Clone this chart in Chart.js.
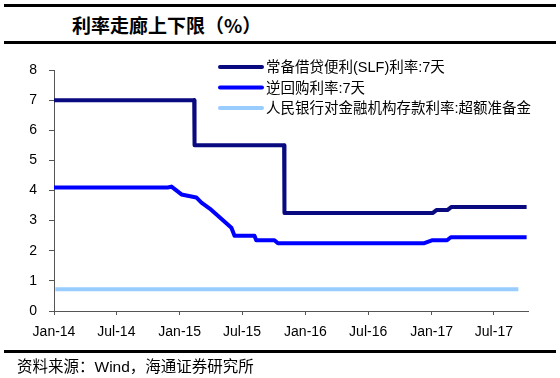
<!DOCTYPE html>
<html>
<head>
<meta charset="utf-8">
<script src="https://cdn.jsdelivr.net/npm/chart.js@4.4.1/dist/chart.umd.min.js"></script>
<style>
  html, body { margin: 0; padding: 0; background: #fff; }
  #wrap { position: relative; width: 560px; height: 378px; overflow: hidden; background: #fff; }
  #chartBox { position: absolute; left: 0; top: 0; width: 560px; height: 378px; }
  .rule { position: absolute; left: 4px; width: 552px; height: 3px; background: #000; }
  .txt { position: absolute; white-space: nowrap; color: #000; }
  #title { left: 72px; top: 13px; font: bold 19px "Noto Sans CJK SC", sans-serif; line-height: 24px; }
  #source { left: 17px; top: 357px; font: 15.5px "Liberation Sans", "Noto Sans CJK SC", sans-serif; line-height: 20px; }
</style>
</head>
<body>
<div id="wrap">
  <div class="rule" style="top:4px"></div>
  <div id="title" class="txt">利率走廊上下限（%）</div>
  <div class="rule" style="top:41px"></div>
  <div id="chartBox"><canvas id="c" width="560" height="378"></canvas></div>
  <div class="rule" style="top:350px"></div>
  <div id="source" class="txt">资料来源：Wind，海通证券研究所</div>
</div>
<script>
// ---- data ----
const tickDates = ['2014-01-01','2014-07-01','2015-01-01','2015-07-01','2016-01-01','2016-07-01','2017-01-01','2017-07-01'];
const tickLabels = ['Jan-14','Jul-14','Jan-15','Jul-15','Jan-16','Jul-16','Jan-17','Jul-17'];

const seriesNames = ['常备借贷便利(SLF)利率:7天', '逆回购利率:7天', '人民银行对金融机构存款利率:超额准备金'];

const slfDates  = ['2014-01-01','2015-02-12','2015-02-13','2015-10-31','2015-11-01','2017-01-04','2017-01-15','2017-02-16','2017-02-27','2017-10-04'];
const slfValues = [7.0, 7.0, 5.5, 5.5, 3.25, 3.25, 3.35, 3.35, 3.45, 3.45];

const repoDates  = ['2014-01-01','2014-11-27','2014-12-08','2015-01-06','2015-02-18','2015-03-05','2015-03-29','2015-05-31','2015-06-09','2015-08-06','2015-08-11','2015-10-03','2015-10-13','2016-12-11','2017-01-04','2017-02-15','2017-02-26','2017-10-04'];
const repoValues = [4.1, 4.1, 4.13, 3.87, 3.77, 3.6, 3.4, 2.76, 2.5, 2.5, 2.35, 2.35, 2.25, 2.25, 2.35, 2.35, 2.45, 2.45];

const excessDates  = ['2014-01-05','2017-09-10'];
const excessValues = [0.72, 0.72];

const axisEndDate = '2017-10-08';
const yMin = 0, yMax = 8, yStep = 1;

// ---- helpers ----
const base = Date.parse('2014-01-01T00:00:00Z');
function day(s) { return (Date.parse(s + 'T00:00:00Z') - base) / 86400000; }
function pts(dates, vals) { return dates.map((d, i) => ({ x: day(d), y: vals[i] })); }

const colors = ['#0a0a80', '#0000ff', '#99ccff'];
const latinCjk = '"Liberation Sans", "Noto Sans CJK SC", sans-serif';

const legendPlugin = {
  id: 'customLegend',
  afterDraw(chart) {
    const ctx = chart.ctx;
    const a = chart.chartArea;
    ctx.save();
    chart.data.datasets.forEach((ds, i) => {
      const y = a.top - 3 + i * 20.5;
      ctx.beginPath();
      ctx.lineWidth = 4;
      ctx.lineCap = 'round';
      ctx.strokeStyle = ds.borderColor;
      ctx.moveTo(a.left + 166, y);
      ctx.lineTo(a.left + 208, y);
      ctx.stroke();
      ctx.fillStyle = '#000';
      ctx.font = '14.5px ' + latinCjk;
      ctx.textBaseline = 'middle';
      ctx.textAlign = 'left';
      ctx.fillText(ds.label, a.left + 212, y + 1);
    });
    ctx.restore();
  }
};

const datasets = [
  { label: seriesNames[0], data: pts(slfDates, slfValues), borderColor: colors[0] },
  { label: seriesNames[1], data: pts(repoDates, repoValues), borderColor: colors[1] },
  { label: seriesNames[2], data: pts(excessDates, excessValues), borderColor: colors[2] }
].map(d => Object.assign(d, { borderWidth: 4, pointRadius: 0, tension: 0, fill: false, borderCapStyle: 'butt', borderJoinStyle: 'round' }));

new Chart(document.getElementById('c'), {
  type: 'line',
  data: { datasets },
  options: {
    responsive: false,
    animation: false,
    devicePixelRatio: 1,
    layout: { padding: { top: 70, right: 32, bottom: 0, left: 0 } },
    plugins: { legend: { display: false }, tooltip: { enabled: false }, title: { display: false } },
    scales: {
      x: {
        type: 'linear',
        min: 0,
        max: day(axisEndDate),
        afterBuildTicks: s => { s.ticks = tickDates.map(d => ({ value: day(d) })); },
        afterFit: s => { s.height = 67; },
        ticks: {
          autoSkip: false, maxRotation: 0, padding: 9, color: '#000',
          font: { family: 'Liberation Sans', size: 14 },
          callback: (v, i) => tickLabels[i]
        },
        grid: { drawOnChartArea: false, drawTicks: true, tickLength: 4, color: '#555' },
        border: { color: '#555', width: 1 }
      },
      y: {
        min: yMin, max: yMax,
        afterFit: s => { s.width = 54; },
        ticks: { stepSize: yStep, padding: 12, color: '#000', font: { family: 'Liberation Sans', size: 14 } },
        grid: { drawOnChartArea: false, drawTicks: true, tickLength: 5, color: '#555' },
        border: { color: '#555', width: 1 }
      }
    }
  },
  plugins: [legendPlugin]
});
</script>
</body>
</html>
